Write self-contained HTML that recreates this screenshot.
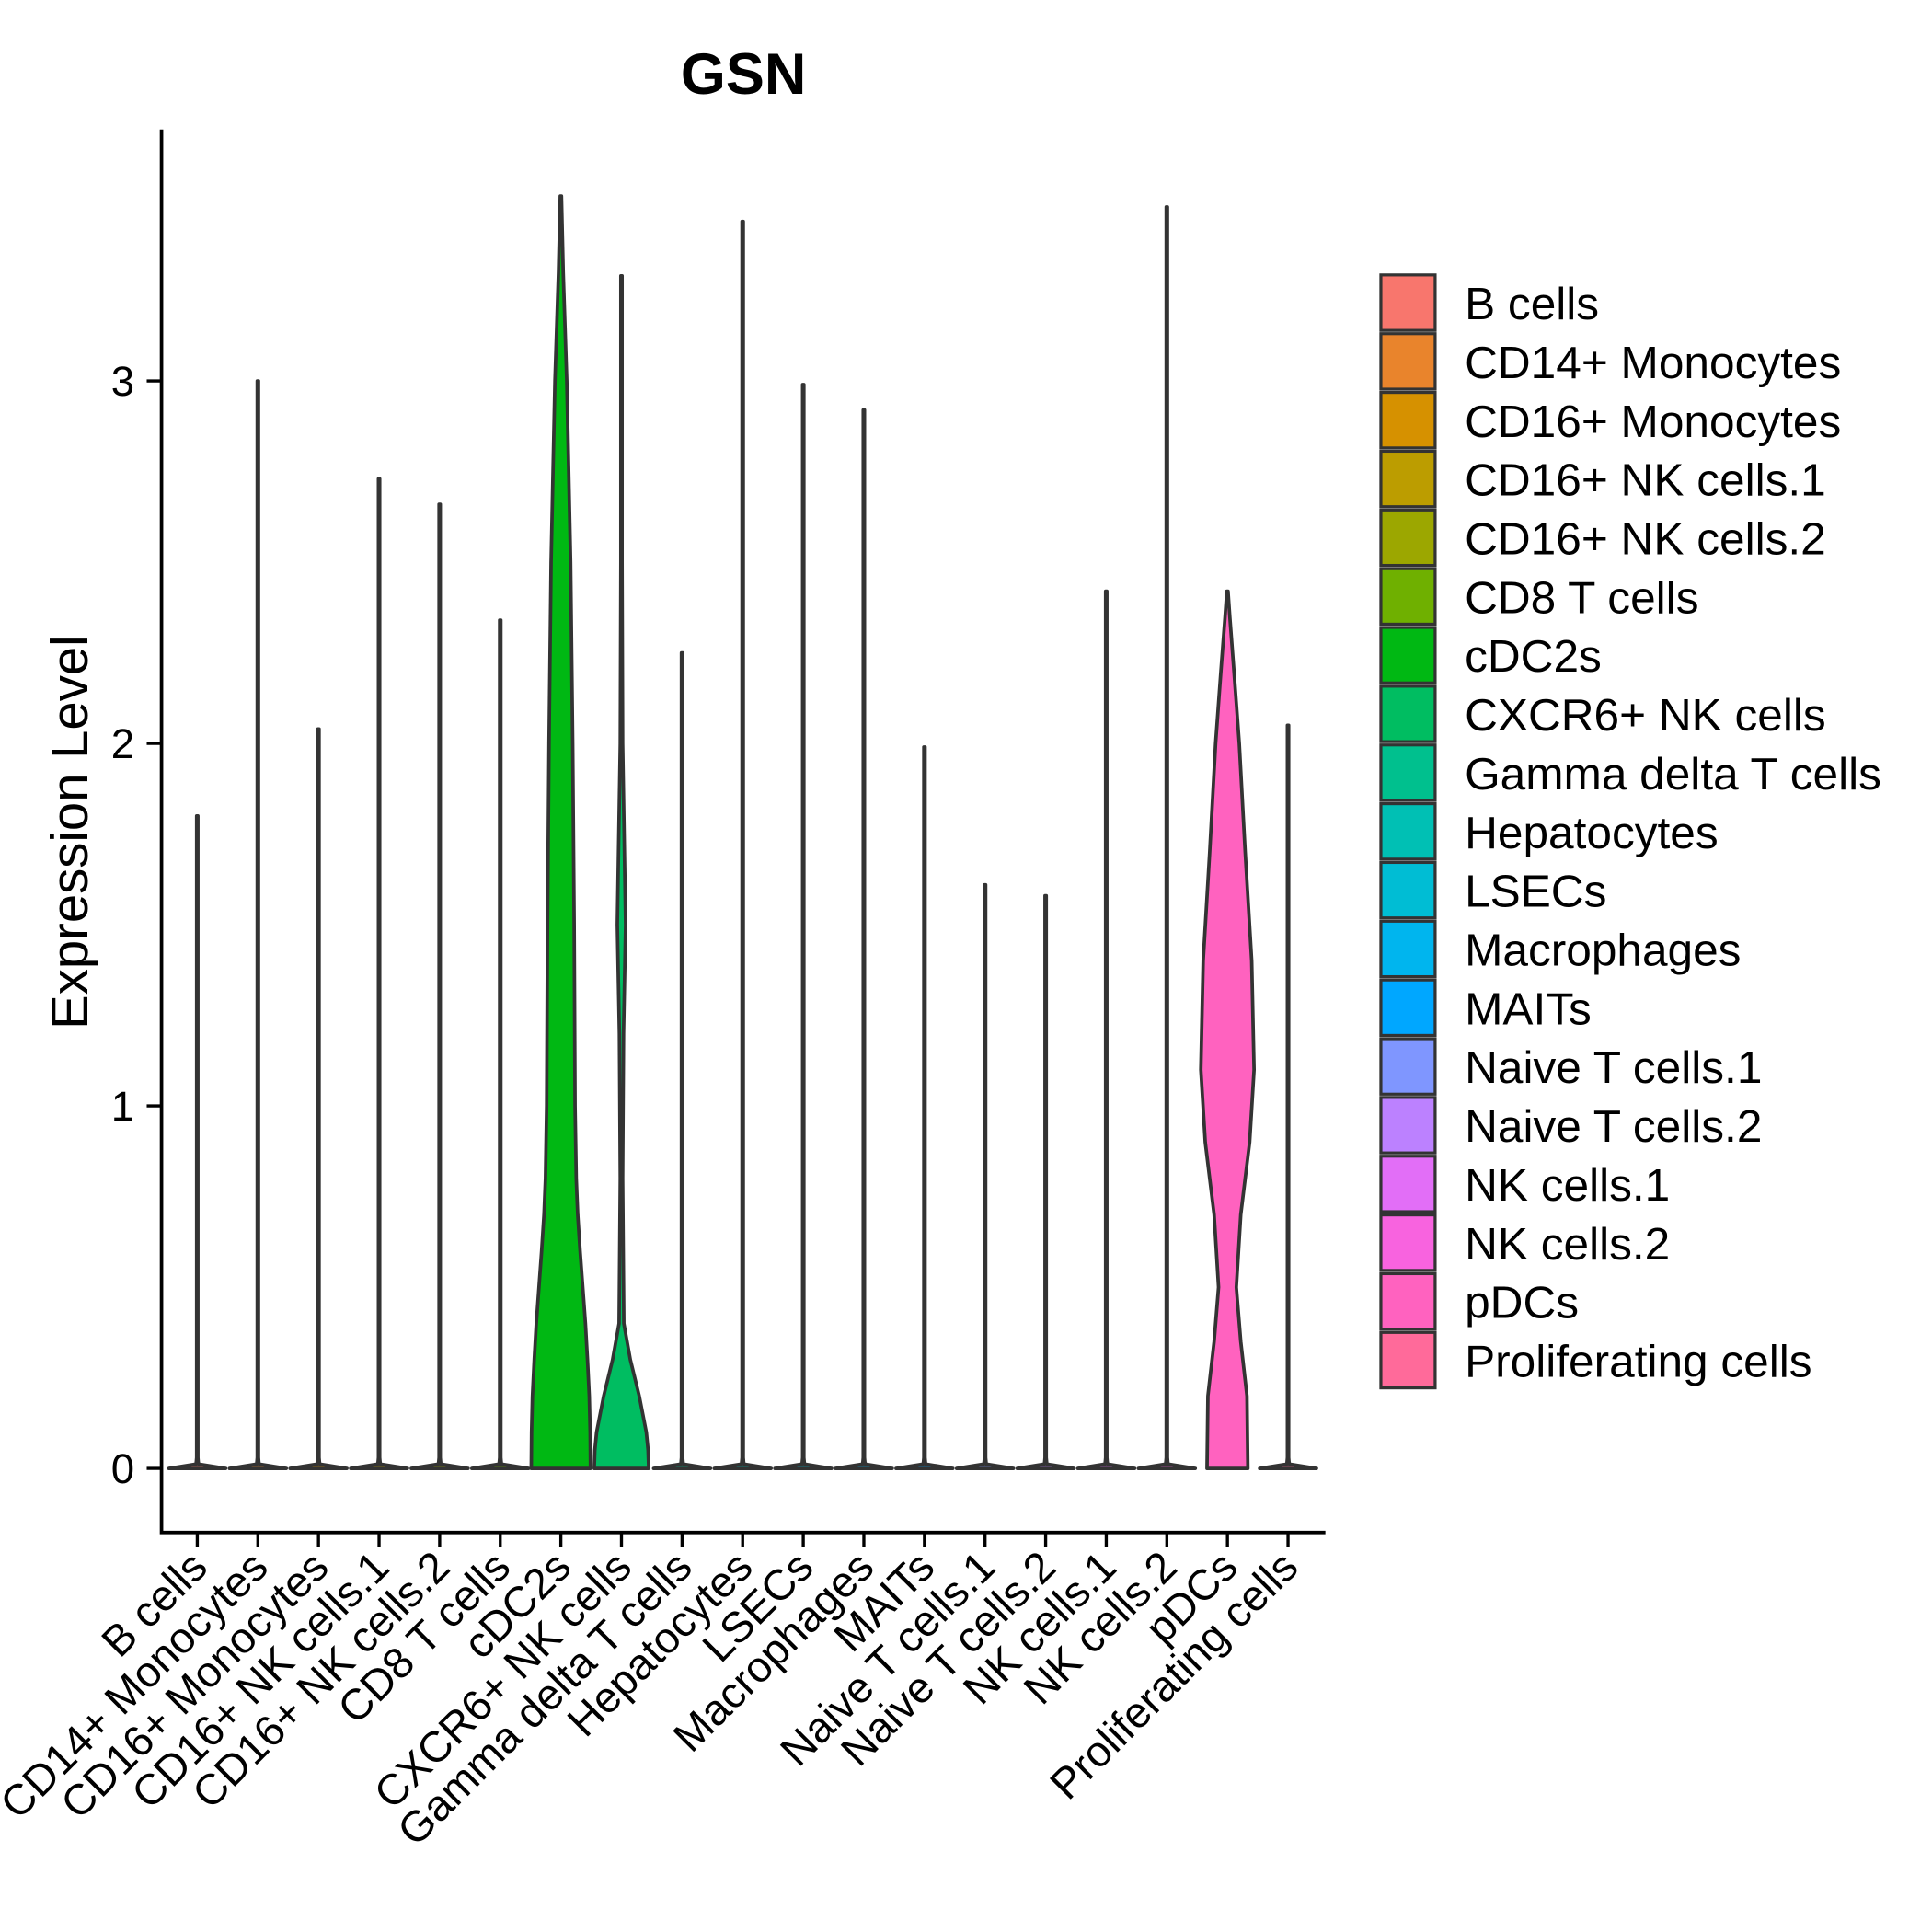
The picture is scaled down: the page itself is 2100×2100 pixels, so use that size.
<!DOCTYPE html>
<html><head><meta charset="utf-8"><style>
html,body{margin:0;padding:0;background:#fff;}
svg{display:block;font-family:"Liberation Sans",Arial,sans-serif;}
</style></head><body>
<svg id="chart" width="2100" height="2100" viewBox="0 0 1567 1567" xmlns="http://www.w3.org/2000/svg">
<text x="603" y="76" font-size="47" font-weight="bold" text-anchor="middle">GSN</text>
<text transform="translate(71,675) rotate(-90)" font-size="42" text-anchor="middle">Expression Level</text>
<g id="plot"></g>
<g id="legend"></g>
</svg>
<script>
const categories = ["B cells","CD14+ Monocytes","CD16+ Monocytes","CD16+ NK cells.1","CD16+ NK cells.2","CD8 T cells","cDC2s","CXCR6+ NK cells","Gamma delta T cells","Hepatocytes","LSECs","Macrophages","MAITs","Naive T cells.1","Naive T cells.2","NK cells.1","NK cells.2","pDCs","Proliferating cells"];
const maxValues = [1.80,3.00,2.04,2.73,2.66,2.34,3.51,3.29,2.25,3.44,2.99,2.92,1.99,1.61,1.58,2.42,3.48,2.42,2.05];
const colors = ["#F8766D","#E9842C","#D69100","#BC9D00","#9CA700","#6FB000","#00B813","#00BD61","#00C08E","#00C0B4","#00BDD4","#00B5EE","#00A7FF","#7F96FF","#BC81FF","#E26EF7","#F863DF","#FF62BF","#FF6A9A"];
const yTicks = [0,1,2,3];
// density profiles: [value, relative half-width]
const profileCDC2 = [[0,1.0],[0.1,0.99],[0.2,0.96],[0.3,0.9],[0.4,0.83],[0.5,0.74],[0.6,0.65],[0.7,0.57],[0.8,0.52],[1.0,0.48],[1.5,0.45],[2.0,0.4],[2.5,0.33],[3.0,0.2],[3.3,0.08],[3.51,0.02]];
const profileCXCR6 = [[0,0.92],[0.05,0.9],[0.1,0.84],[0.2,0.6],[0.3,0.3],[0.4,0.08],[0.8,0.04],[1.2,0.07],[1.5,0.14],[1.7,0.1],[2.0,0.04],[2.5,0.02],[3.29,0.02]];
const profilePDC = [[0,0.69],[0.2,0.66],[0.35,0.45],[0.5,0.3],[0.7,0.45],[0.9,0.75],[1.1,0.9],[1.4,0.82],[1.7,0.6],[2.0,0.4],[2.2,0.22],[2.35,0.08],[2.42,0.02]];
const profiles = {6: profileCDC2, 7: profileCXCR6, 17: profilePDC};

const NS="http://www.w3.org/2000/svg";
const x0=131, x1=1075, yTop=105, yBot=1243;
const step=49.15, xStart=160;
const xPos = i => xStart + i*step;
const yPos = v => 1191 - v*294;
const halfMax = 24;
const plot=document.getElementById('plot');
function mk(tag, attrs){const e=document.createElementNS(NS,tag);for(const k in attrs)e.setAttribute(k,attrs[k]);return e;}

categories.forEach((c,i)=>{
  const cx=xPos(i);
  let prof = profiles[i];
  if(!prof){ prof=[[0,0.96],[0.012,0.04],[0.03,0.02],[maxValues[i],0.02]]; }
  else { prof = prof.slice(); prof[prof.length-1]=[maxValues[i],prof[prof.length-1][1]]; }
  let d="M"+(cx-prof[0][1]*halfMax)+","+yPos(0);
  prof.forEach(p=>{d+=" L"+(cx-p[1]*halfMax)+","+yPos(p[0]);});
  for(let k=prof.length-1;k>=0;k--){const p=prof[k];d+=" L"+(cx+p[1]*halfMax)+","+yPos(p[0]);}
  d+=" Z";
  const v=mk('path',{d:d,fill:colors[i],stroke:"#333333","stroke-width":2.8,"stroke-linejoin":"round"});
  
  
  plot.appendChild(v);
  const t=mk('line',{x1:cx,x2:cx,y1:yBot,y2:yBot+12,stroke:"#000","stroke-width":2.5});
  
  
  plot.appendChild(t);
  const lab=mk('text',{transform:"translate("+(cx+10)+","+(yBot+30)+") rotate(-45)","font-size":35,"text-anchor":"end"});
  lab.textContent=c;
  
  
  plot.appendChild(lab);
});
yTicks.forEach(v=>{
  const t=mk('line',{x1:x0-12,x2:x0,y1:yPos(v),y2:yPos(v),stroke:"#000","stroke-width":2.5});
  
  
  plot.appendChild(t);
  const l=mk('text',{x:x0-22,y:yPos(v)+12,"font-size":34,"text-anchor":"end"});
  l.textContent=v;
  
  
  plot.appendChild(l);
});
const ax=mk('path',{d:"M"+x0+","+yTop+" L"+x0+","+yBot+" L"+x1+","+yBot,fill:"none",stroke:"#000","stroke-width":2.8});


plot.appendChild(ax);

const leg=document.getElementById('legend');
categories.forEach((c,i)=>{
  const y=223+i*47.65;
  const r=mk('rect',{x:1120,y:y,width:44,height:45,fill:colors[i],stroke:"#333333","stroke-width":2.4});
  
  
  leg.appendChild(r);
  const t=mk('text',{x:1188,y:y+36,"font-size":37});
  t.textContent=c;
  
  
  leg.appendChild(t);
});
</script>
</body></html>
